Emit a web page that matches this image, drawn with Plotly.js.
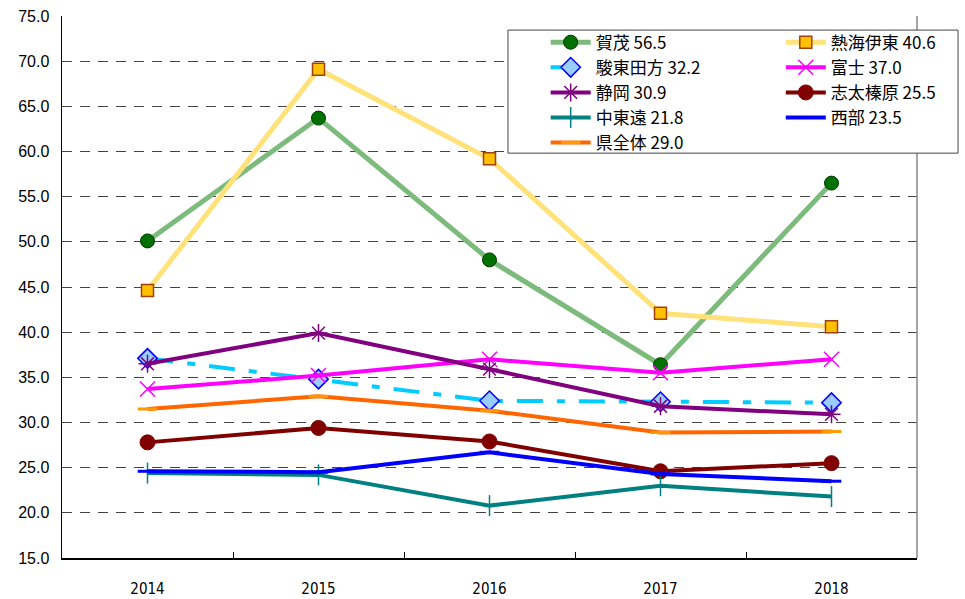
<!DOCTYPE html>
<html>
<head>
<meta charset="utf-8">
<script src="https://cdn.plot.ly/plotly-3.0.1.min.js"></script>
<style>html,body{margin:0;padding:0;background:#fff;}</style>
</head>
<body>
<div id="chart" style="width:965px;height:599px;"></div>
<script>
const years = ['2014', '2015', '2016', '2017', '2018'];
const regions = ['賀茂', '熱海伊東', '駿東田方', '富士', '静岡', '志太榛原', '中東遠', '西部', '県全体'];

const kamo        = [50.1, 63.7, 48.0, 36.4, 56.5];
const atamiIto    = [44.6, 69.1, 59.2, 42.1, 40.6];
const suntoTagata = [37.1, 34.8, 32.4, 32.3, 32.2];
const fuji        = [33.7, 35.2, 37.0, 35.5, 37.0];
const shizuoka    = [36.5, 39.9, 35.9, 31.8, 30.9];
const shidaHaibara= [27.8, 29.4, 27.9, 24.6, 25.5];
const chutoen     = [24.4, 24.2, 20.8, 23.0, 21.8];
const seibu       = [24.6, 24.5, 26.7, 24.3, 23.5];
const kenZentai   = [31.5, 32.9, 31.3, 28.9, 29.0];

const seriesValues = [kamo, atamiIto, suntoTagata, fuji, shizuoka, shidaHaibara, chutoen, seibu, kenZentai];
// legend column for each region (left column / right column of the legend box)
const legendColumn = ['legend', 'legend2', 'legend', 'legend2', 'legend', 'legend2', 'legend', 'legend2', 'legend'];

const styles = [
  {line: {color: '#7dbb7d', width: 5}, marker: {symbol: 'circle', size: 14, color: '#007000', line: {color: '#003a00', width: 1}}},
  {line: {color: '#ffe27a', width: 5}, marker: {symbol: 'square', size: 12, color: '#ffc000', line: {color: '#a0400a', width: 1.5}}},
  {line: {color: '#00ccff', width: 4, dash: '26px,14px,8px,14px'}, marker: {symbol: 'diamond', size: 15, color: '#99ccff', line: {color: '#0000ff', width: 1.5}}},
  {line: {color: '#ff00ff', width: 4}, marker: {symbol: 'x-thin-open', size: 15, color: '#ff00ff', line: {color: '#ff00ff', width: 1.5}}},
  {line: {color: '#800080', width: 4}, marker: {symbol: 'asterisk-open', size: 15, color: '#800080', line: {color: '#800080', width: 1.5}}},
  {line: {color: '#800000', width: 4}, marker: {symbol: 'circle', size: 15, color: '#800000', line: {color: '#800000', width: 1}}},
  {line: {color: '#008080', width: 4}, marker: {symbol: 'line-ns-open', size: 15, color: '#008080', line: {color: '#008080', width: 1.5}}},
  {line: {color: '#0000ff', width: 4}, marker: {symbol: 'line-ew-open', size: 14, color: '#0000ff', line: {color: '#0000ff', width: 3}}},
  {line: {color: '#ff6600', width: 4}, marker: {symbol: 'line-ew-open', size: 14, color: '#ff9900', line: {color: '#ff9900', width: 3}}}
];

const traces = regions.map((name, i) => ({
  type: 'scatter',
  mode: 'lines+markers',
  x: years,
  y: seriesValues[i],
  name: name + ' ' + seriesValues[i][seriesValues[i].length - 1].toFixed(1),
  legend: legendColumn[i],
  line: styles[i].line,
  marker: styles[i].marker,
  hoverinfo: 'x+y+name'
}));

const legendFont = {family: 'Noto Sans CJK JP, sans-serif', size: 17, color: '#000'};
const legendCommon = {
  orientation: 'v',
  xanchor: 'left',
  yanchor: 'top',
  y: 0.984,
  bgcolor: 'rgba(0,0,0,0)',
  borderwidth: 0,
  tracegroupgap: 0,
  itemwidth: 40,
  font: legendFont,
  traceorder: 'normal'
};

const layout = {
  width: 965,
  height: 599,
  margin: {l: 62, r: 48, t: 16, b: 41, pad: 0, autoexpand: false},
  paper_bgcolor: '#ffffff',
  plot_bgcolor: '#ffffff',
  font: {family: 'Liberation Sans, Arial, sans-serif', size: 15, color: '#000'},
  showlegend: true,
  xaxis: {
    type: 'category',
    categoryorder: 'array',
    categoryarray: years,
    range: [-0.5, 4.5],
    showgrid: false,
    zeroline: false,
    showline: true,
    linecolor: '#000',
    linewidth: 2,
    ticks: 'inside',
    tickson: 'boundaries',
    ticklen: 6,
    tickcolor: '#000',
    tickwidth: 1,
    ticklabelstandoff: 16,
    automargin: false,
    tickfont: {family: 'DejaVu Sans Condensed, Noto Sans CJK JP, sans-serif', size: 15, color: '#000'}
  },
  yaxis: {
    range: [15, 75],
    dtick: 5,
    tick0: 15,
    tickformat: '.1f',
    showgrid: true,
    gridcolor: '#444',
    gridwidth: 1,
    griddash: '10px,8px',
    zeroline: false,
    showline: true,
    linecolor: '#000',
    linewidth: 1.5,
    ticks: '',
    ticklabelstandoff: 8,
    automargin: false,
    tickfont: {family: 'Liberation Sans, Arial, sans-serif', size: 16, color: '#000'}
  },
  legend: Object.assign({}, legendCommon, {x: 0.5657}),
  legend2: Object.assign({}, legendCommon, {x: 0.8407}),
  shapes: [
    {type: 'line', xref: 'paper', yref: 'paper', x0: 1, x1: 1, y0: 0, y1: 1, line: {color: '#888', width: 1.5}},
    {type: 'rect', xref: 'paper', yref: 'paper', x0: 0.5216, x1: 1.048, y0: 0.747, y1: 0.974,
     layer: 'above', fillcolor: '#ffffff', line: {color: '#444', width: 1}}
  ]
};

Plotly.newPlot('chart', traces, layout, {displayModeBar: false, staticPlot: true});
</script>
</body>
</html>
